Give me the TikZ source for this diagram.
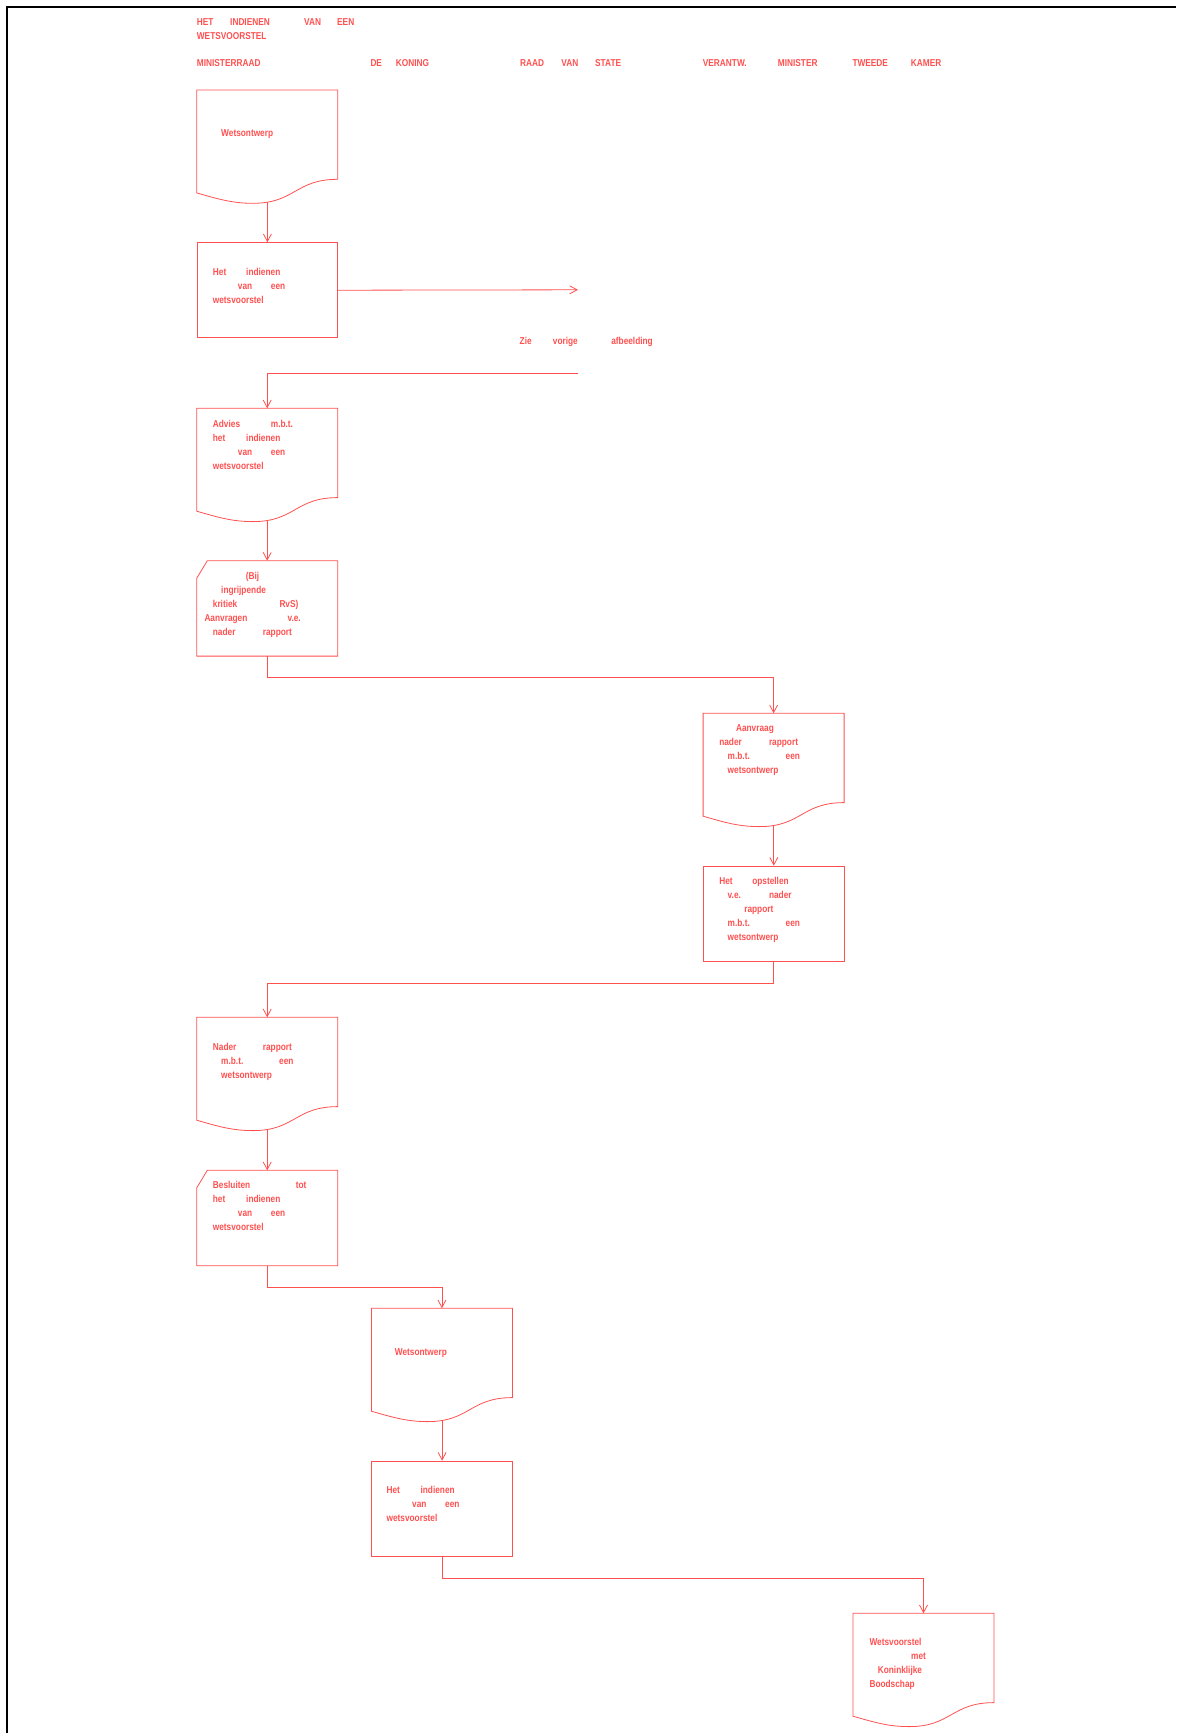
\documentclass[tikz,border=0pt]{standalone}
\usepackage{fontspec}
\setmainfont{Liberation Sans}[FakeStretch=0.83]
\usetikzlibrary{arrows.meta}
\definecolor{vred}{RGB}{255,80,80}

\tikzset{
  flow/.style={draw=vred, line width=0.8pt},
  arrow/.style={flow, -{Straight Barb[length=7.5pt,width=8pt]}},
  procbox/.style={flow, rectangle, anchor=north west, inner sep=0pt,
    minimum width=140.6pt, minimum height=95pt},
  cardbox/.style={rectangle, anchor=north west, inner sep=0pt,
    minimum width=140.6pt, minimum height=95pt},
  docbox/.style={rectangle, anchor=north west, inner sep=0pt,
    minimum width=140.6pt, minimum height=102.5pt},
  lanetxt/.style={text=vred, font=\fontsize{10}{13.9}\selectfont\bfseries,
    inner sep=0pt, anchor=base west},
  boxtxt/.style={text=vred, font=\fontsize{10}{13.9}\selectfont\bfseries,
    inner sep=0pt, anchor=north west, align=left,
    execute at begin node=\rule{0pt}{10pt}},
}

% word in a fixed slot
\newcommand{\wrd}[2]{\makebox[#1pt][l]{#2}}

% document outline with wavy bottom
\newcommand{\drawdoc}[1]{%
  \draw[flow] (#1.north west) -- (#1.north east)
    -- ([yshift=13.6pt]#1.south east)
    .. controls ([shift={(98.4pt,13.6pt)}]#1.south west)
    and ([shift={(98.4pt,-10.4pt)}]#1.south west)
    .. ([shift={(56.2pt,-10.4pt)}]#1.south west) coordinate[pos=0.88] (#1-w)
    .. controls ([shift={(35.2pt,-10.4pt)}]#1.south west)
    and ([shift={(21.1pt,-6pt)}]#1.south west)
    .. (#1.south west) -- cycle;}

% card outline with cut corner
\newcommand{\drawcard}[1]{%
  \draw[flow] ([yshift=-17.6pt]#1.north west) -- ([xshift=10.6pt]#1.north west)
    -- (#1.north east) -- (#1.south east) -- (#1.south west) -- cycle;}

\begin{document}
\begin{tikzpicture}[x=1pt, y=1pt]
  \useasboundingbox (0,0) rectangle (1176,-1733);

  % page frame
  \draw[line width=2.2pt] (7,-1733) -- (7,-7) -- (1176,-7);

  % title
  \node[boxtxt] (titel) at (196.7,-18.3)
    {\wrd{33.3}{HET}\wrd{74}{INDIENEN}\wrd{33}{VAN}EEN\\WETSVOORSTEL};

  % lanes
  \node[lanetxt] (lane-mr) at (196.7,-66.5) {MINISTERRAAD};
  \node[lanetxt] (lane-koning) at (370.3,-66.5) {\wrd{25.4}{DE}KONING};
  \node[lanetxt] (lane-rvs) at (520,-66.5) {\wrd{41.3}{RAAD}\wrd{33.7}{VAN}STATE};
  \node[lanetxt] (lane-minister) at (702.7,-66.5) {\wrd{75}{VERANTW.}MINISTER};
  \node[lanetxt] (lane-kamer) at (852.3,-66.5) {\wrd{58.4}{TWEEDE}KAMER};

  % ministerraad: first draft
  \node[docbox] (wetsontwerp-a) at (196.7,-90) {};
  \drawdoc{wetsontwerp-a}
  \node[boxtxt] (wetsontwerp-a-txt) at ([shift={(24.3,-36.2)}]wetsontwerp-a.north west)
    {Wetsontwerp};

  \node[procbox] (indienen-a) at (196.7,-242.3) {};
  \node[boxtxt] (indienen-a-txt) at ([shift={(16,-25.7)}]indienen-a.north west)
    {\wrd{33.3}{Het}indienen\\\hspace*{25pt}\wrd{33}{van}een\\wetsvoorstel};

  % reference to the previous picture
  \coordinate (zie-in) at (578,-289.8);
  \coordinate (zie-uit) at (578,-373);
  \node[lanetxt] (zie) at (519.5,-344) {\wrd{33.2}{Zie}\wrd{58.4}{vorige}afbeelding};

  \node[docbox] (advies) at (196.7,-408.3) {};
  \drawdoc{advies}
  \node[boxtxt] (advies-txt) at ([shift={(16,-12)}]advies.north west)
    {\wrd{58}{Advies}m.b.t.\\\wrd{33.3}{het}indienen\\\hspace*{25pt}\wrd{33}{van}een\\wetsvoorstel};

  \node[cardbox] (aanvragen) at (196.7,-560.7) {};
  \drawcard{aanvragen}
  \node[boxtxt] (aanvragen-txt) at ([shift={(7.6,-11.3)}]aanvragen.north west)
    {\hspace*{41.4pt}(Bij\\\hspace*{16.7pt}ingrijpende\\\hspace*{8.4pt}\wrd{66.6}{kritiek}RvS)\\\wrd{83}{Aanvragen}v.e.\\\hspace*{8.4pt}\wrd{50}{nader}rapport};

  % verantw. minister
  \node[docbox] (aanvraag) at (703.1,-713.3) {};
  \drawdoc{aanvraag}
  \node[boxtxt] (aanvraag-txt) at ([shift={(16,-11)}]aanvraag.north west)
    {\hspace*{16.7pt}Aanvraag\\\wrd{49.7}{nader}rapport\\\hspace*{8.4pt}\wrd{58}{m.b.t.}een\\\hspace*{8.4pt}wetsontwerp};

  \node[procbox] (opstellen) at (703.1,-865.7) {};
  \node[boxtxt] (opstellen-txt) at ([shift={(16,-11.6)}]opstellen.north west)
    {\wrd{33}{Het}opstellen\\\hspace*{8.4pt}\wrd{41.3}{v.e.}nader\\\hspace*{25pt}rapport\\\hspace*{8.4pt}\wrd{58}{m.b.t.}een\\\hspace*{8.4pt}wetsontwerp};

  % ministerraad: decision
  \node[docbox] (nader) at (196.7,-1017.3) {};
  \drawdoc{nader}
  \node[boxtxt] (nader-txt) at ([shift={(16,-25.7)}]nader.north west)
    {\wrd{50}{Nader}rapport\\\hspace*{8.3pt}\wrd{58}{m.b.t.}een\\\hspace*{8.3pt}wetsontwerp};

  \node[cardbox] (besluiten) at (196.7,-1170.3) {};
  \drawcard{besluiten}
  \node[boxtxt] (besluiten-txt) at ([shift={(16,-11)}]besluiten.north west)
    {\wrd{83}{Besluiten}tot\\\wrd{33.3}{het}indienen\\\hspace*{25pt}\wrd{33}{van}een\\wetsvoorstel};

  % de koning
  \node[docbox] (wetsontwerp-b) at (371.4,-1308.3) {};
  \drawdoc{wetsontwerp-b}
  \node[boxtxt] (wetsontwerp-b-txt) at ([shift={(23.3,-36.9)}]wetsontwerp-b.north west)
    {Wetsontwerp};

  \node[procbox] (indienen-b) at (371.4,-1460.7) {};
  \node[boxtxt] (indienen-b-txt) at ([shift={(15,-25.6)}]indienen-b.north west)
    {\wrd{34}{Het}indienen\\\hspace*{25.6pt}\wrd{33}{van}een\\wetsvoorstel};

  % tweede kamer
  \node[docbox] (boodschap) at (853,-1613.3) {};
  \drawdoc{boodschap}
  \node[boxtxt] (boodschap-txt) at ([shift={(16.3,-24.7)}]boodschap.north west)
    {Wetsvoorstel\\\hspace*{41.7pt}met\\\hspace*{8.3pt}Koninklijke\\Boodschap};

  % connectors
  \draw[arrow] (wetsontwerp-a-w -| indienen-a.north) to (indienen-a.north);
  \draw[arrow] (indienen-a.east) to (zie-in);
  \draw[arrow] (zie-uit) -| (advies.north);
  \draw[arrow] (advies-w -| aanvragen.north) to (aanvragen.north);
  \draw[arrow] (aanvragen.south) -- ++(0,-21.5) -| (aanvraag.north);
  \draw[arrow] (aanvraag-w -| opstellen.north) to (opstellen.north);
  \draw[arrow] (opstellen.south) -- ++(0,-21.5) -| (nader.north);
  \draw[arrow] (nader-w -| besluiten.north) to (besluiten.north);
  \draw[arrow] (besluiten.south) -- ++(0,-21.5) -| (wetsontwerp-b.north);
  \draw[arrow] (wetsontwerp-b-w -| indienen-b.north) to (indienen-b.north);
  \draw[arrow] (indienen-b.south) -- ++(0,-21.5) -| (boodschap.north);

\end{tikzpicture}
\end{document}
